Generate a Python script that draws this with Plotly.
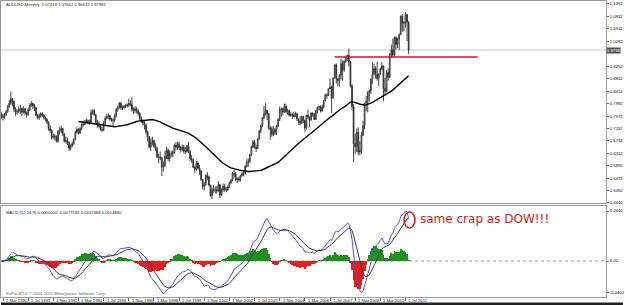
import pandas as pd
import numpy as np
import plotly.graph_objects as go

# ---------------- DATA (AUDUSD monthly, Feb 1990 .. Sep 2011) ----------------
FIRST_MONTH = "1990-02"
FIRST_OPEN = 0.7650

closes = [
    0.7560, 0.7530, 0.7620, 0.7720, 0.7880, 0.8000, 0.8150, 0.8060, 0.7810, 0.7710, 0.7720,  # 1990 Feb-Dec
    0.7780, 0.7820, 0.7700, 0.7820, 0.7680, 0.7620, 0.7780, 0.7940, 0.8000, 0.7920, 0.7850, 0.7600,  # 1991
    0.7520, 0.7580, 0.7650, 0.7600, 0.7520, 0.7450, 0.7360, 0.7150, 0.7080, 0.6850, 0.6900, 0.6880,  # 1992
    0.6720, 0.7050, 0.7080, 0.7150, 0.6960, 0.6720, 0.6750, 0.6680, 0.6480, 0.6560, 0.6640, 0.6780,  # 1993
    0.7020, 0.7120, 0.7000, 0.7150, 0.7280, 0.7300, 0.7380, 0.7420, 0.7380, 0.7360, 0.7700, 0.7750,  # 1994
    0.7620, 0.7380, 0.7280, 0.7240, 0.7120, 0.7100, 0.7340, 0.7500, 0.7560, 0.7580, 0.7460, 0.7440,  # 1995
    0.7430, 0.7580, 0.7800, 0.7870, 0.8000, 0.7850, 0.7860, 0.7900, 0.7920, 0.7940, 0.8000, 0.7960,  # 1996
    0.7780, 0.7760, 0.7820, 0.7740, 0.7660, 0.7480, 0.7400, 0.7340, 0.7260, 0.7040, 0.6880, 0.6520,  # 1997
    0.6680, 0.6740, 0.6560, 0.6480, 0.6200, 0.6180, 0.6160, 0.5850, 0.5900, 0.6220, 0.6420, 0.6130,  # 1998
    0.6280, 0.6300, 0.6340, 0.6580, 0.6520, 0.6620, 0.6500, 0.6440, 0.6530, 0.6380, 0.6380, 0.6560,  # 1999
    0.6370, 0.6140, 0.6080, 0.5840, 0.5770, 0.5990, 0.5820, 0.5730, 0.5430, 0.5200, 0.5260, 0.5570,  # 2000
    0.5520, 0.5250, 0.4890, 0.5070, 0.5080, 0.5090, 0.5050, 0.5260, 0.4910, 0.5080, 0.5200, 0.5110,  # 2001
    0.5080, 0.5190, 0.5330, 0.5410, 0.5650, 0.5620, 0.5430, 0.5450, 0.5420, 0.5560, 0.5620, 0.5630,  # 2002
    0.5870, 0.6010, 0.6030, 0.6270, 0.6530, 0.6700, 0.6520, 0.6480, 0.6800, 0.7070, 0.7260, 0.7520,  # 2003
    0.7640, 0.7770, 0.7640, 0.7170, 0.7140, 0.6950, 0.7000, 0.7120, 0.7240, 0.7460, 0.7780, 0.7810,  # 2004
    0.7710, 0.7900, 0.7720, 0.7770, 0.7600, 0.7630, 0.7600, 0.7560, 0.7640, 0.7480, 0.7400, 0.7330,  # 2005
    0.7560, 0.7420, 0.7160, 0.7600, 0.7530, 0.7430, 0.7670, 0.7620, 0.7460, 0.7750, 0.7870, 0.7890,  # 2006
    0.7740, 0.7880, 0.8090, 0.8280, 0.8270, 0.8490, 0.8550, 0.8170, 0.8860, 0.9300, 0.8830, 0.8770,  # 2007
    0.8940, 0.9340, 0.9130, 0.9420, 0.9560, 0.9620, 0.9400, 0.8590, 0.7900, 0.6640, 0.6540, 0.7020,  # 2008
    0.6360, 0.6420, 0.6930, 0.7250, 0.8010, 0.8060, 0.8360, 0.8420, 0.8810, 0.9000, 0.9170, 0.8980,  # 2009
    0.8840, 0.8970, 0.9170, 0.9260, 0.8500, 0.8410, 0.9040, 0.8880, 0.9670, 0.9800, 0.9630, 1.0220,  # 2010
    0.9990, 1.0170, 1.0330, 1.0950, 1.0700, 1.0720, 1.0990, 1.07418, 0.97981,                       # 2011 Jan-Sep
]

highs = [
    0.7700, 0.7640, 0.7680, 0.7780, 0.7950, 0.8120, 0.8400, 0.8180, 0.8100, 0.7870, 0.7800,
    0.7900, 0.7960, 0.7860, 0.7900, 0.7860, 0.7720, 0.7860, 0.8000, 0.8080, 0.8020, 0.7980, 0.7880,
    0.7640, 0.7660, 0.7700, 0.7700, 0.7640, 0.7560, 0.7500, 0.7400, 0.7260, 0.7130, 0.6980, 0.6960,
    0.6920, 0.7100, 0.7200, 0.7250, 0.7180, 0.7000, 0.6880, 0.6840, 0.6720, 0.6620, 0.6720, 0.6820,
    0.7080, 0.7200, 0.7160, 0.7200, 0.7330, 0.7400, 0.7440, 0.7480, 0.7460, 0.7450, 0.7780, 0.7800,
    0.7820, 0.7650, 0.7450, 0.7400, 0.7300, 0.7200, 0.7400, 0.7560, 0.7640, 0.7660, 0.7620, 0.7520,
    0.7500, 0.7650, 0.7840, 0.7920, 0.8050, 0.8040, 0.7930, 0.7950, 0.7980, 0.8000, 0.8160, 0.8100,
    0.8200, 0.7860, 0.7900, 0.7880, 0.7800, 0.7700, 0.7560, 0.7460, 0.7400, 0.7320, 0.7080, 0.6900,
    0.6820, 0.6880, 0.6780, 0.6660, 0.6520, 0.6300, 0.6380, 0.6200, 0.6050, 0.6400, 0.6540, 0.6480,
    0.6420, 0.6400, 0.6420, 0.6640, 0.6700, 0.6700, 0.6720, 0.6560, 0.6620, 0.6600, 0.6520, 0.6600,
    0.6700, 0.6430, 0.6250, 0.6150, 0.5900, 0.6050, 0.6050, 0.5920, 0.5750, 0.5450, 0.5350, 0.5610,
    0.5680, 0.5560, 0.5260, 0.5160, 0.5240, 0.5200, 0.5210, 0.5380, 0.5280, 0.5140, 0.5300, 0.5290,
    0.5180, 0.5240, 0.5370, 0.5450, 0.5680, 0.5750, 0.5680, 0.5500, 0.5530, 0.5590, 0.5680, 0.5700,
    0.5920, 0.6120, 0.6140, 0.6300, 0.6580, 0.6760, 0.6770, 0.6600, 0.6830, 0.7100, 0.7280, 0.7540,
    0.7920, 0.8005, 0.7740, 0.7670, 0.7230, 0.7220, 0.7250, 0.7170, 0.7280, 0.7500, 0.7900, 0.7860,
    0.7860, 0.7990, 0.7990, 0.7820, 0.7770, 0.7700, 0.7680, 0.7720, 0.7720, 0.7690, 0.7490, 0.7560,
    0.7590, 0.7560, 0.7460, 0.7610, 0.7790, 0.7560, 0.7700, 0.7700, 0.7680, 0.7760, 0.7880, 0.7930,
    0.7930, 0.7960, 0.8110, 0.8330, 0.8340, 0.8510, 0.8830, 0.8590, 0.8870, 0.9330, 0.9350, 0.8850,
    0.8990, 0.9500, 0.9450, 0.9440, 0.9600, 0.9640, 0.9849, 0.9420, 0.8650, 0.7980, 0.6980, 0.7160,
    0.7190, 0.6720, 0.7040, 0.7420, 0.8010, 0.8250, 0.8420, 0.8460, 0.8850, 0.9400, 0.9330, 0.9250,
    0.9400, 0.9030, 0.9210, 0.9400, 0.9270, 0.8860, 0.9120, 0.9180, 0.9680, 0.9990, 1.0180, 1.0260,
    1.0250, 1.0210, 1.0350, 1.0950, 1.1010, 1.0780, 1.1081, 1.1010, 1.07662,
]

lows = [
    0.7480, 0.7420, 0.7480, 0.7580, 0.7680, 0.7850, 0.7950, 0.7900, 0.7720, 0.7580, 0.7620,
    0.7680, 0.7640, 0.7580, 0.7660, 0.7600, 0.7520, 0.7580, 0.7740, 0.7880, 0.7800, 0.7740, 0.7560,
    0.7460, 0.7440, 0.7520, 0.7540, 0.7460, 0.7400, 0.7300, 0.7080, 0.7000, 0.6780, 0.6800, 0.6760,
    0.6680, 0.6680, 0.6950, 0.7000, 0.6900, 0.6680, 0.6640, 0.6600, 0.6400, 0.6420, 0.6520, 0.6600,
    0.6760, 0.6980, 0.6940, 0.6980, 0.7100, 0.7220, 0.7260, 0.7340, 0.7300, 0.7280, 0.7320, 0.7620,
    0.7580, 0.7320, 0.7180, 0.7160, 0.7080, 0.7030, 0.7060, 0.7300, 0.7460, 0.7480, 0.7400, 0.7380,
    0.7240, 0.7380, 0.7520, 0.7720, 0.7820, 0.7780, 0.7770, 0.7800, 0.7850, 0.7860, 0.7880, 0.7900,
    0.7720, 0.7640, 0.7680, 0.7660, 0.7580, 0.7420, 0.7340, 0.7260, 0.7120, 0.6960, 0.6720, 0.6480,
    0.6400, 0.6580, 0.6500, 0.6400, 0.6150, 0.5980, 0.6080, 0.5550, 0.5700, 0.5860, 0.6120, 0.6050,
    0.6040, 0.6180, 0.6180, 0.6300, 0.6420, 0.6440, 0.6420, 0.6340, 0.6380, 0.6320, 0.6290, 0.6340,
    0.6330, 0.6060, 0.6000, 0.5820, 0.5650, 0.5730, 0.5780, 0.5600, 0.5390, 0.5100, 0.5060, 0.5220,
    0.5400, 0.5200, 0.4850, 0.4775, 0.4990, 0.4960, 0.4960, 0.5020, 0.4800, 0.4880, 0.5020, 0.5020,
    0.5000, 0.5040, 0.5150, 0.5280, 0.5370, 0.5500, 0.5370, 0.5320, 0.5360, 0.5360, 0.5530, 0.5540,
    0.5600, 0.5830, 0.5860, 0.5980, 0.6220, 0.6490, 0.6470, 0.6360, 0.6450, 0.6780, 0.7000, 0.7200,
    0.7460, 0.7600, 0.7440, 0.7110, 0.6775, 0.6870, 0.6900, 0.6940, 0.6930, 0.7190, 0.7400, 0.7550,
    0.7590, 0.7680, 0.7660, 0.7620, 0.7550, 0.7550, 0.7470, 0.7520, 0.7550, 0.7410, 0.7280, 0.7260,
    0.7320, 0.7340, 0.7020, 0.7120, 0.7480, 0.7200, 0.7430, 0.7550, 0.7440, 0.7440, 0.7660, 0.7770,
    0.7690, 0.7720, 0.7830, 0.8070, 0.8160, 0.8250, 0.8480, 0.7677, 0.8180, 0.8840, 0.8670, 0.8570,
    0.8560, 0.8800, 0.8760, 0.9060, 0.9370, 0.9430, 0.9240, 0.8540, 0.7760, 0.6010, 0.6280, 0.6360,
    0.6250, 0.6250, 0.6300, 0.6900, 0.7120, 0.7730, 0.7700, 0.8060, 0.8320, 0.8660, 0.8950, 0.8840,
    0.8760, 0.8580, 0.8990, 0.9120, 0.8070, 0.8320, 0.8380, 0.8770, 0.8870, 0.9540, 0.9580, 0.9580,
    0.9810, 0.9860, 0.9800, 1.0300, 1.0420, 1.0430, 1.0550, 1.0100, 0.96622,
]

TICK_MONTHS = ["1990-03", "1991-07", "1992-11", "1994-03", "1995-07", "1996-11", "1998-03",
               "1999-07", "2000-11", "2002-03", "2003-07", "2004-11", "2006-03", "2007-07",
               "2008-11", "2010-03", "2011-07"]
TICK_TEXT = ["1 Mar 1990", "1 Jul 1991", "1 Nov 1992", "1 Mar 1994", "1 Jul 1995", "1 Nov 1996",
             "1 Mar 1998", "1 Jul 1999", "1 Nov 2000", "1 Mar 2002", "1 Jul 2003", "1 Nov 2004",
             "1 Mar 2006", "1 Jul 2007", "1 Nov 2008", "1 Mar 2010", "1 Jul 2011"]

PRICE_TICKS = [1.1352, 1.0932, 1.0512, 1.0092, 0.9252, 0.8832, 0.8412, 0.7992, 0.7572,
               0.7152, 0.6732, 0.6312, 0.5892, 0.5472, 0.5052, 0.4645]
PRICE_TICK_TEXT = ["1.1352", "1.0932", "1.0512", "1.0092", "0.9252", "0.8832", "0.8412", "0.7992",
                   "0.7572", "0.7152", "0.6732", "0.6312", "0.5892", "0.5472", "0.5052", "0.4640"]
MACD_TICKS = [0.0640, 0.0, -0.0402]
MACD_TICK_TEXT = ["0.0640", "0.00", "-0.0402"]

MA_PERIOD = 50
RESIST_LEVEL = 0.9564
RESIST_FROM, RESIST_TO = "2007-10", "2015-05"

HEADER = "AUDUSD,Monthly  1.07418 1.07662 0.96622 0.97981"
MACD_HEADER = "MACD (12,26,9) 0.0000000 -0.0077292 0.0437388 0.0514680"
COPYRIGHT = "FxPro MT4, \u00a9 2001-2011 MetaQuotes Software Corp."
NOTE = "same crap as DOW!!!"

# ---------------- derived ----------------
months = pd.period_range(FIRST_MONTH, periods=len(closes), freq="M")
idx = np.arange(len(closes))
close_s = pd.Series(closes)
opens = [FIRST_OPEN] + closes[:-1]
hi = [max(h, o, c) for h, o, c in zip(highs, opens, closes)]
lo = [min(l, o, c) for l, o, c in zip(lows, opens, closes)]

ma = close_s.rolling(MA_PERIOD).mean()
ema12 = close_s.ewm(span=12, adjust=False).mean()
ema26 = close_s.ewm(span=26, adjust=False).mean()
macd = ema12 - ema26
signal = macd.ewm(span=9, adjust=False).mean()
hist = macd - signal


def mi(m):
    return (pd.Period(m, freq="M") - months[0]).n


tick_idx = [mi(m) for m in TICK_MONTHS]

# ---------------- geometry ----------------
W, H = 625, 305
ML, MR, MT, MB = 0, 17, 1, 8
PW, PH = W - ML - MR, H - MT - MB


def py(p):  # pixel y -> paper
    return (H - MB - p) / PH


def px(p):
    return (p - ML) / PW


FONT = "Liberation Sans"
SMALL = 4.2

fig = go.Figure()
fig.add_trace(go.Candlestick(
    x=idx, open=opens, high=hi, low=lo, close=closes,
    increasing=dict(line=dict(color="#303030", width=0.9), fillcolor="white"),
    decreasing=dict(line=dict(color="#303030", width=0.9), fillcolor="#303030"),
    whiskerwidth=0, xaxis="x", yaxis="y", showlegend=False, hoverinfo="skip"))
fig.add_trace(go.Scatter(x=idx, y=ma, mode="lines", line=dict(color="black", width=1.4),
                         xaxis="x", yaxis="y", showlegend=False, hoverinfo="skip"))

hcol = ["#1f8f1f" if v > 0 else "#e41c1c" for v in hist]
fig.add_trace(go.Bar(x=idx, y=hist, marker=dict(color=hcol, line=dict(width=0)), width=0.6,
                     xaxis="x2", yaxis="y2", showlegend=False, hoverinfo="skip"))
fig.add_trace(go.Scatter(x=idx, y=macd, mode="lines", line=dict(color="#5555c8", width=1),
                         xaxis="x2", yaxis="y2", showlegend=False, hoverinfo="skip"))
fig.add_trace(go.Scatter(x=idx, y=signal, mode="lines", line=dict(color="#3a3a3a", width=1),
                         xaxis="x2", yaxis="y2", showlegend=False, hoverinfo="skip"))

XR = [-0.27, 1 + (PW - 2) / 1.58]
main_top = 1.1081 + (12 - MT) * 0.003372
main_bot = 1.1081 - (203 - 12) * 0.003372
macd_scale = MACD_TICKS[0] / (261 - 211)   # value per pixel
macd_top = (261 - 206) * macd_scale
macd_bot = -(297 - 261) * macd_scale

axis_common = dict(showgrid=False, zeroline=False, linecolor="#9a9a9a", linewidth=1,
                   showline=True, mirror=True)
fig.update_layout(
    width=W, height=H, margin=dict(l=ML, r=MR, t=MT, b=MB),
    paper_bgcolor="white", plot_bgcolor="white",
    bargap=0,
    xaxis=dict(domain=[0, 1], range=XR, anchor="y", showticklabels=False, ticks="",
               rangeslider=dict(visible=False), **axis_common),
    yaxis=dict(domain=[py(203), 1], range=[main_bot, main_top], side="right",
               tickvals=PRICE_TICKS, ticktext=PRICE_TICK_TEXT, ticks="outside", ticklen=2,
               tickcolor="#707070", tickfont=dict(family=FONT, size=SMALL, color="black"),
               **axis_common),
    xaxis2=dict(domain=[0, 1], range=XR, anchor="y2", matches="x", tickvals=tick_idx,
                ticks="outside", ticklen=3, tickcolor="#707070", showticklabels=False,
                **axis_common),
    yaxis2=dict(domain=[0, py(206)], range=[macd_bot, macd_top], side="right",
                tickvals=MACD_TICKS, ticktext=MACD_TICK_TEXT, ticks="outside", ticklen=2,
                tickcolor="#707070", tickfont=dict(family=FONT, size=SMALL, color="black"),
                **axis_common),
)

shapes = []
shapes.append(dict(type="line", xref="x", yref="y", x0=XR[0], x1=XR[1],
                   y0=closes[-1], y1=closes[-1], line=dict(color="#c8c8c8", width=1), layer="below"))
shapes.append(dict(type="line", xref="x", yref="y", x0=mi(RESIST_FROM), x1=mi(RESIST_TO),
                   y0=RESIST_LEVEL, y1=RESIST_LEVEL, line=dict(color="#d01818", width=1.5)))
shapes.append(dict(type="line", xref="x2", yref="y2", x0=XR[0], x1=XR[1], y0=0, y1=0,
                   line=dict(color="#9a9a9a", width=1, dash="dot"), layer="below"))
shapes.append(dict(type="circle", xref="paper", yref="paper",
                   x0=px(405), x1=px(416), y0=py(228), y1=py(212),
                   line=dict(color="#d01818", width=1.5)))
shapes.append(dict(type="rect", xref="paper", yref="paper", x0=0, x1=W / PW,
                   y0=py(305), y1=py(302.5), fillcolor="#202020", line=dict(width=0)))
fig.update_layout(shapes=shapes)

ann = []
ann.append(dict(text=HEADER, xref="paper", yref="paper", x=px(3), y=py(5), xanchor="left",
                yanchor="middle", showarrow=False, font=dict(family=FONT, size=SMALL, color="#202020")))
ann.append(dict(text=MACD_HEADER, xref="paper", yref="paper", x=px(3), y=py(212), xanchor="left",
                yanchor="middle", showarrow=False, font=dict(family=FONT, size=SMALL, color="#202020")))
ann.append(dict(text=COPYRIGHT, xref="paper", yref="paper", x=px(3), y=py(293.5), xanchor="left",
                yanchor="middle", showarrow=False, font=dict(family=FONT, size=SMALL, color="#606060")))
ann.append(dict(text=NOTE, xref="paper", yref="paper", x=px(419), y=py(218.5), xanchor="left",
                yanchor="middle", showarrow=False,
                font=dict(family="DejaVu Sans", size=12, color="#d01818")))
ann.append(dict(text="%.4f" % closes[-1], xref="paper", yref="y", x=1.0, y=closes[-1],
                xanchor="left", yanchor="middle", showarrow=False, bgcolor="#505050",
                font=dict(family=FONT, size=SMALL, color="white"), borderpad=0))
for t, lab in zip(tick_idx, TICK_TEXT):
    ann.append(dict(text=lab, xref="x2", yref="paper", x=t, y=py(300.5), xanchor="left",
                    yanchor="middle", xshift=1, showarrow=False,
                    font=dict(family=FONT, size=SMALL, color="#202020")))
fig.update_layout(annotations=ann)

fig.write_html("out.html")
